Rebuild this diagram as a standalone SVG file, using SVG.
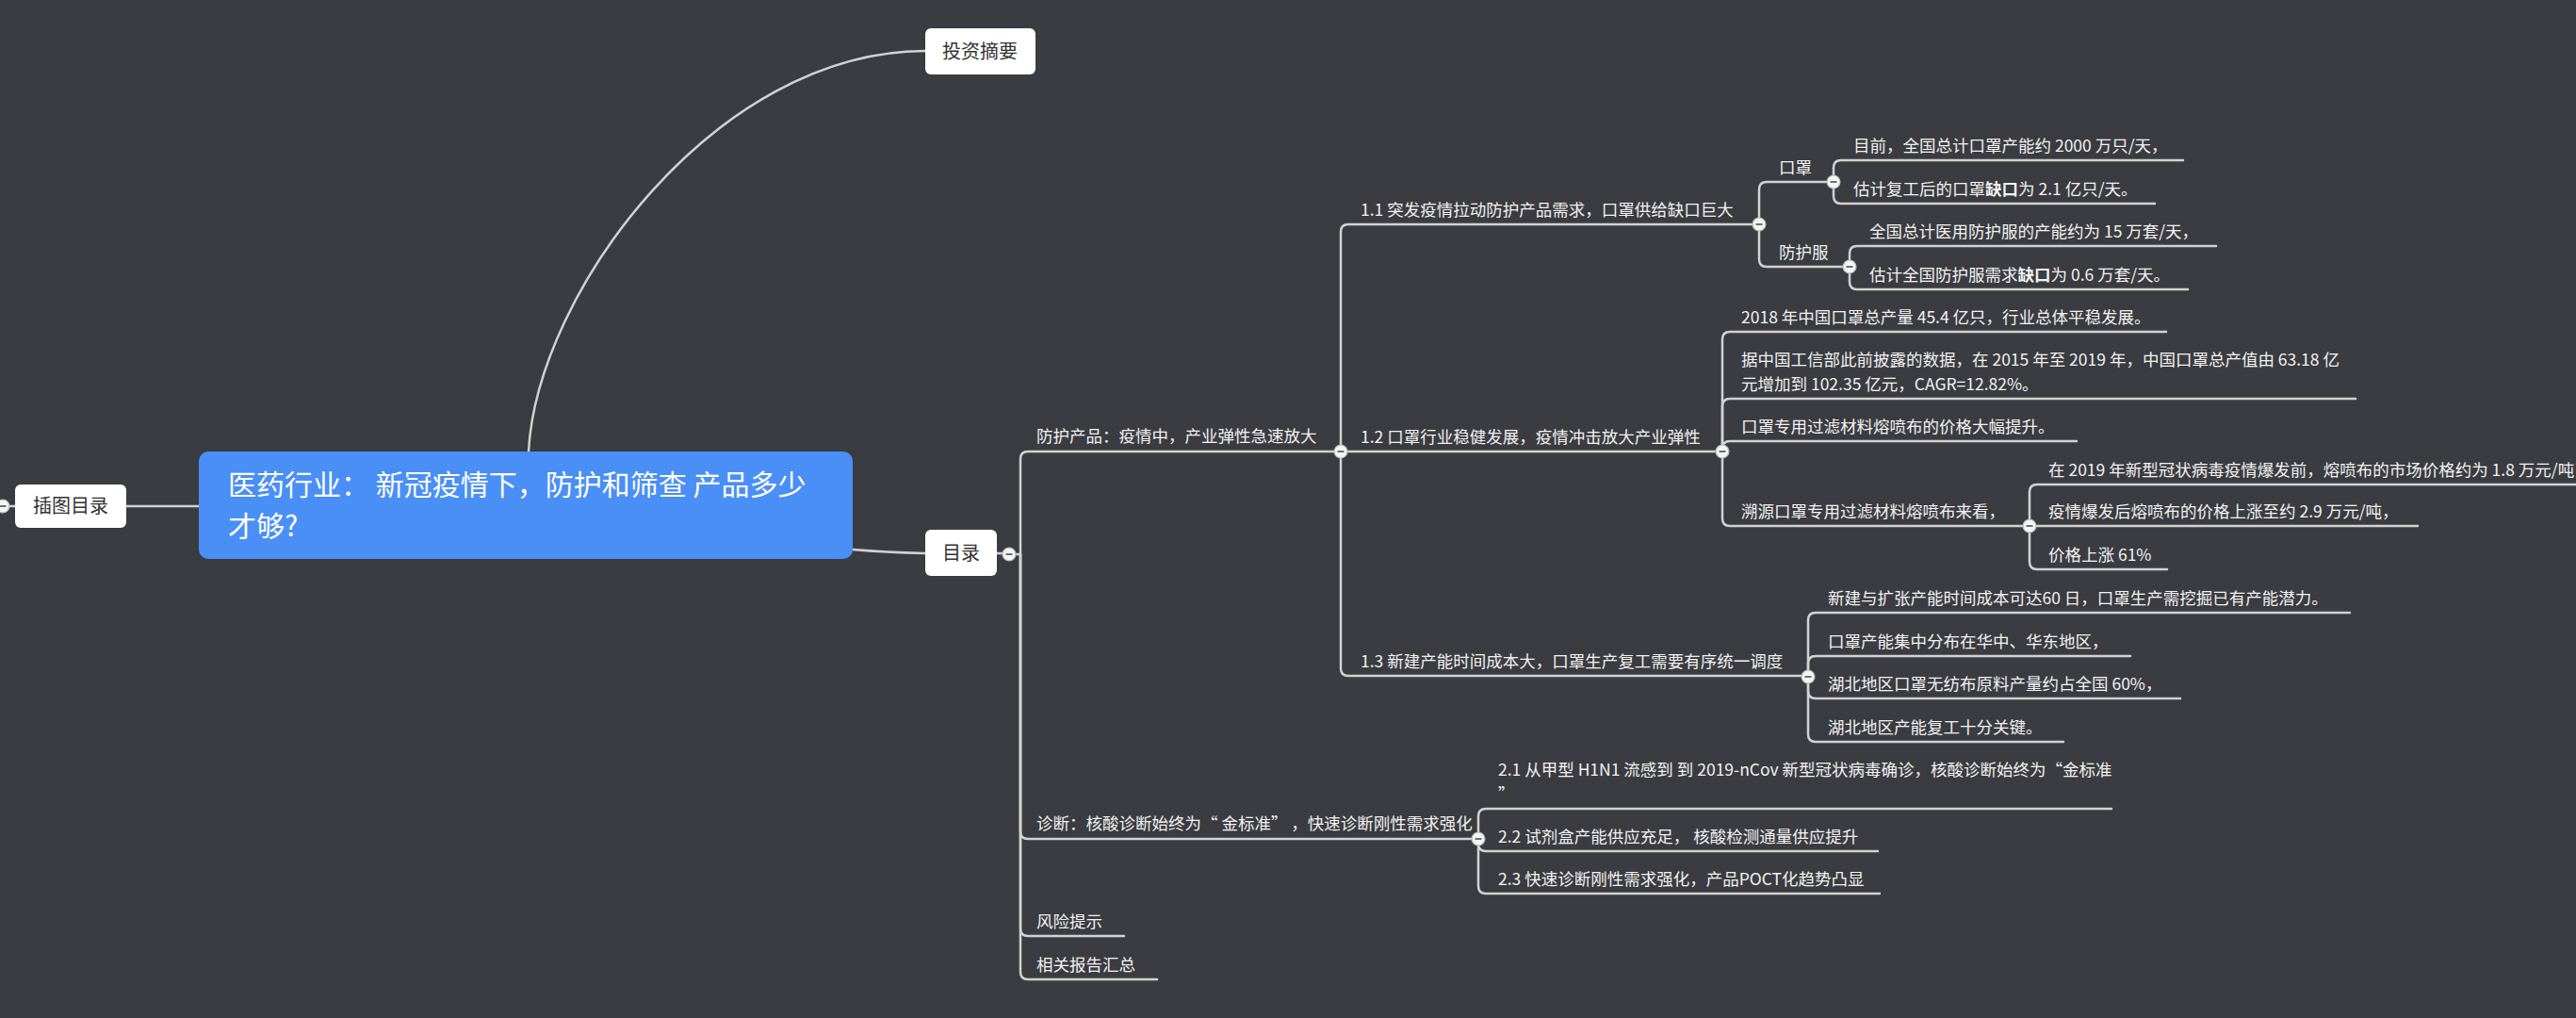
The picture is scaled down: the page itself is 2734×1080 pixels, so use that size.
<svg xmlns="http://www.w3.org/2000/svg" width="2734" height="1080" viewBox="0 0 2734 1080">
<style>
.conn{fill:none;stroke:#d2d2d2;stroke-width:2.5;stroke-linecap:round}
.t{font-family:"Noto Sans CJK SC","Noto Sans",sans-serif;font-size:17.5px;fill:#f2f2f2}
.box{fill:#ffffff}
.bt{font-family:"Noto Sans CJK SC","Noto Sans",sans-serif;font-size:20px;fill:#333333;text-anchor:middle}
.rt{font-family:"Noto Sans CJK SC","Noto Sans",sans-serif;font-size:30px;fill:#ffffff}
.b{font-weight:bold}
</style>
<defs>
<g id="tog">
<circle r="7" fill="#f4f4f4" stroke="#b8b8b8" stroke-width="1.2"/>
<line x1="-3.5" y1="0" x2="3.5" y2="0" stroke="#707070" stroke-width="2"/>
</g>
</defs>
<rect x="0" y="0" width="2734" height="1080" fill="#3a3c41"/>

<g id="connectors">
<path class="conn" d="M561 479 C570 310 760 54 982 54"/>
<path class="conn" d="M211 537 H134"/>
<path class="conn" d="M905 583 Q940 586 982 587"/>
<path class="conn" d="M16 537 H8"/>
<path class="conn" d="M1058 587 H1064"/>
<!-- trunk -->
<path class="conn" d="M1078 588 H1083"/>
<path class="conn" d="M1083 588 V487 Q1083 479 1091 479 H1423"/>
<path class="conn" d="M1083 588 V882 Q1083 890 1091 890 H1569"/>
<path class="conn" d="M1083 588 V985 Q1083 993 1091 993 H1193"/>
<path class="conn" d="M1083 588 V1031 Q1083 1039 1091 1039 H1228"/>
<!-- 防护产品 -->
<path class="conn" d="M1423 479 V246 Q1423 238 1431 238 H1867"/>
<path class="conn" d="M1423 479 H1828"/>
<path class="conn" d="M1423 479 V709 Q1423 717 1431 717 H1919"/>
<!-- 1.1 -->
<path class="conn" d="M1867 238 V201 Q1867 193 1875 193 H1946"/>
<path class="conn" d="M1867 238 V275 Q1867 283 1875 283 H1963"/>
<path class="conn" d="M1946 193 V178 Q1946 170 1954 170 H2317"/>
<path class="conn" d="M1946 193 V208 Q1946 216 1954 216 H2287"/>
<path class="conn" d="M1963 283 V269 Q1963 261 1971 261 H2352"/>
<path class="conn" d="M1963 283 V299 Q1963 307 1971 307 H2322"/>
<!-- 1.2 -->
<path class="conn" d="M1828 479 V360 Q1828 352 1836 352 H2299"/>
<path class="conn" d="M1828 479 V431 Q1828 423 1836 423 H2500"/>
<path class="conn" d="M1828 479 V476 Q1828 468 1836 468 H2204"/>
<path class="conn" d="M1828 479 V550 Q1828 558 1836 558 H2154"/>
<path class="conn" d="M2154 558 V522 Q2154 514 2162 514 H2760"/>
<path class="conn" d="M2154 558 H2566"/>
<path class="conn" d="M2154 558 V596 Q2154 604 2162 604 H2300"/>
<!-- 1.3 -->
<path class="conn" d="M1919 718 V658 Q1919 650 1927 650 H2494"/>
<path class="conn" d="M1919 718 V704 Q1919 696 1927 696 H2261"/>
<path class="conn" d="M1919 718 V733 Q1919 741 1927 741 H2314"/>
<path class="conn" d="M1919 718 V779 Q1919 787 1927 787 H2190"/>
<!-- 诊断 -->
<path class="conn" d="M1569 890 V866 Q1569 858 1577 858 H2241"/>
<path class="conn" d="M1569 890 V895 Q1569 903 1577 903 H1993"/>
<path class="conn" d="M1569 890 V940 Q1569 948 1577 948 H1995"/>
</g>

<g id="root">
<rect x="211" y="479" width="694" height="114" rx="10" fill="#4a8ff6"/>
<text class="rt" x="242" y="525">医药行业： 新冠疫情下，防护和筛查 产品多少</text>
<text class="rt" x="242" y="569">才够?</text>
</g>
<g id="n-chatu">
<rect class="box" x="16" y="514" width="118" height="46" rx="6"/>
<text class="bt" x="75" y="544">插图目录</text>
<use href="#tog" x="3" y="537"/>
</g>
<g id="n-touzi">
<rect class="box" x="982" y="30" width="117" height="49" rx="6"/>
<text class="bt" x="1040" y="62">投资摘要</text>
</g>
<g id="n-mulu">
<rect class="box" x="982" y="562" width="76" height="49" rx="6"/>
<text class="bt" x="1020" y="594">目录</text>
<use href="#tog" x="1071" y="588"/>
</g>

<g id="n-fanghu">
<text class="t" x="1100" y="469">防护产品：疫情中，产业弹性急速放大</text>
<use href="#tog" x="1423" y="479"/>
</g>
<g id="n-1-1">
<text class="t" x="1444" y="229">1.1 突发疫情拉动防护产品需求，口罩供给缺口巨大</text>
<use href="#tog" x="1867" y="238"/>
</g>
<g id="n-kouzhao">
<text class="t" x="1888" y="184">口罩</text>
<use href="#tog" x="1946" y="193"/>
</g>
<g id="n-kz-1"><text class="t" x="1967" y="161">目前，全国总计口罩产能约 2000 万只/天，</text></g>
<g id="n-kz-2"><text class="t" x="1967" y="207">估计复工后的口罩<tspan class="b">缺口</tspan>为 2.1 亿只/天。</text></g>
<g id="n-fhf">
<text class="t" x="1888" y="274">防护服</text>
<use href="#tog" x="1963" y="283"/>
</g>
<g id="n-fhf-1"><text class="t" x="1984" y="252">全国总计医用防护服的产能约为 15 万套/天，</text></g>
<g id="n-fhf-2"><text class="t" x="1984" y="298">估计全国防护服需求<tspan class="b">缺口</tspan>为 0.6 万套/天。</text></g>

<g id="n-1-2">
<text class="t" x="1444" y="470">1.2 口罩行业稳健发展，疫情冲击放大产业弹性</text>
<use href="#tog" x="1828" y="479"/>
</g>
<g id="n-12-1"><text class="t" x="1848" y="343">2018 年中国口罩总产量 45.4 亿只，行业总体平稳发展。</text></g>
<g id="n-12-2">
<text class="t" x="1848" y="388">据中国工信部此前披露的数据，在 2015 年至 2019 年，中国口罩总产值由 63.18 亿</text>
<text class="t" x="1848" y="414">元增加到 102.35 亿元，CAGR=12.82%。</text>
</g>
<g id="n-12-3"><text class="t" x="1848" y="459">口罩专用过滤材料熔喷布的价格大幅提升。</text></g>
<g id="n-12-4">
<text class="t" x="1848" y="549">溯源口罩专用过滤材料熔喷布来看，</text>
<use href="#tog" x="2154" y="558"/>
</g>
<g id="n-sy-1"><text class="t" x="2174" y="505">在 2019 年新型冠状病毒疫情爆发前，熔喷布的市场价格约为 1.8 万元/吨，</text></g>
<g id="n-sy-2"><text class="t" x="2174" y="549">疫情爆发后熔喷布的价格上涨至约 2.9 万元/吨，</text></g>
<g id="n-sy-3"><text class="t" x="2174" y="595">价格上涨 61%</text></g>

<g id="n-1-3">
<text class="t" x="1444" y="708">1.3 新建产能时间成本大，口罩生产复工需要有序统一调度</text>
<use href="#tog" x="1919" y="718"/>
</g>
<g id="n-13-1"><text class="t" x="1940" y="641">新建与扩张产能时间成本可达60 日，口罩生产需挖掘已有产能潜力。</text></g>
<g id="n-13-2"><text class="t" x="1940" y="687">口罩产能集中分布在华中、华东地区，</text></g>
<g id="n-13-3"><text class="t" x="1940" y="732">湖北地区口罩无纺布原料产量约占全国 60%，</text></g>
<g id="n-13-4"><text class="t" x="1940" y="778">湖北地区产能复工十分关键。</text></g>

<g id="n-zhenduan">
<text class="t" x="1100" y="880">诊断：核酸诊断始终为“ 金标准” ，快速诊断刚性需求强化</text>
<use href="#tog" x="1569" y="890"/>
</g>
<g id="n-2-1">
<text class="t" x="1590" y="823">2.1 从甲型 H1N1 流感到 到 2019-nCov 新型冠状病毒确诊，核酸诊断始终为“金标准</text>
<text class="t" x="1590" y="849">”</text>
</g>
<g id="n-2-2"><text class="t" x="1590" y="894">2.2 试剂盒产能供应充足， 核酸检测通量供应提升</text></g>
<g id="n-2-3"><text class="t" x="1590" y="939">2.3 快速诊断刚性需求强化，产品POCT化趋势凸显</text></g>
<g id="n-fengxian"><text class="t" x="1100" y="984">风险提示</text></g>
<g id="n-xiangguan"><text class="t" x="1100" y="1030">相关报告汇总</text></g>
</svg>
